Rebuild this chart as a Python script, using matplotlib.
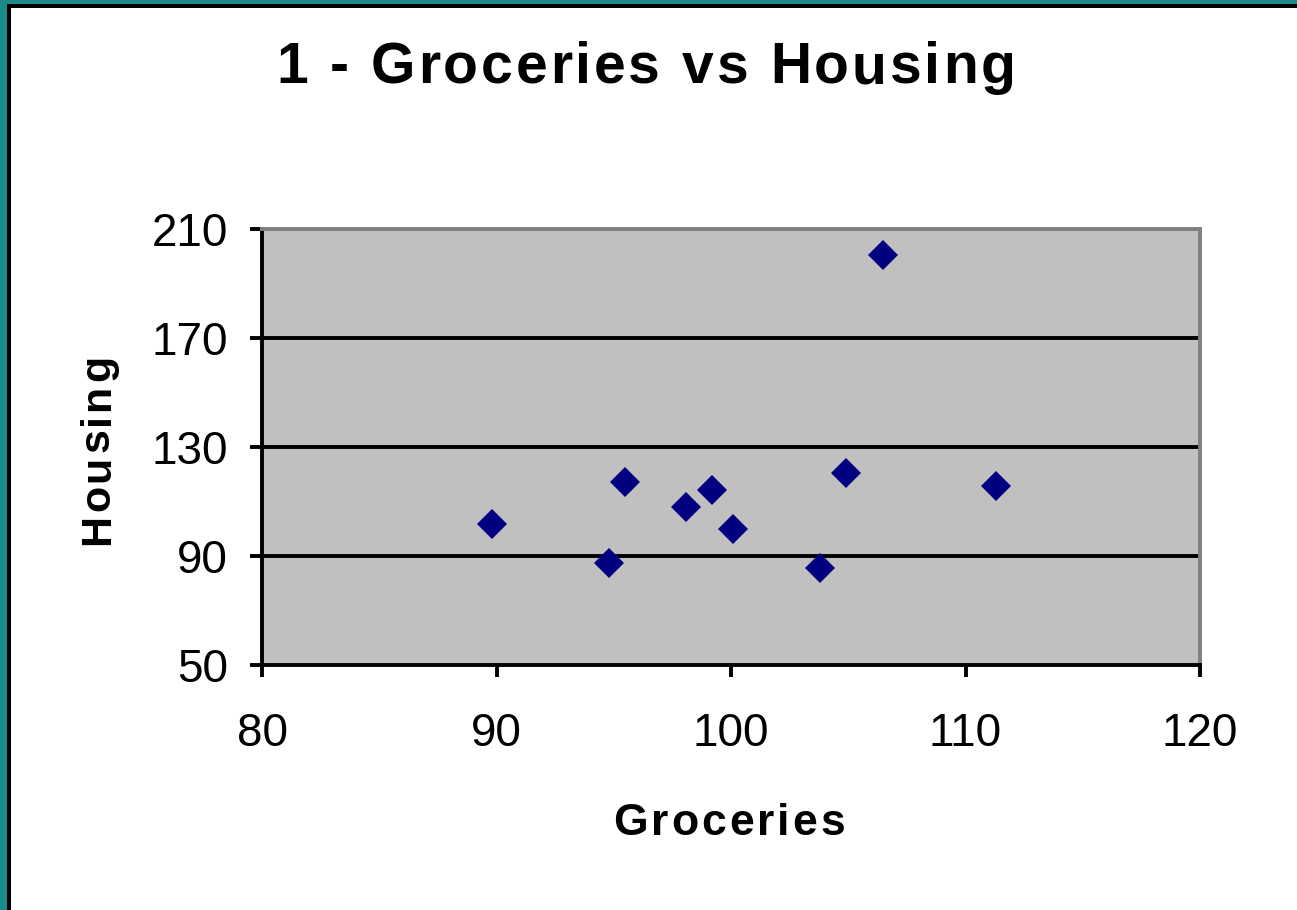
import matplotlib.pyplot as plt
from matplotlib.patches import Rectangle
from matplotlib.font_manager import FontProperties

# Grocery and housing cost indices for the sampled cities
groceries = [89.8, 94.8, 95.5, 98.1, 99.2, 100.1, 103.8, 104.9, 106.5, 111.3]
housing = [101.7, 87.4, 117.2, 108.0, 114.2, 99.9, 85.6, 120.5, 200.5, 115.7]

x_ticks = [80, 90, 100, 110, 120]
y_ticks = [50, 90, 130, 170, 210]

W, H = 1297, 910
FAMILY = ['Liberation Sans', 'DejaVu Sans']
plt.rcParams['font.family'] = FAMILY

fig = plt.figure(figsize=(W / 100, H / 100), dpi=100)
ax = fig.add_axes([262 / W, 1 - 665 / H, (1200 - 262) / W, (665 - 229) / H])


def spaced_text(s, cx, base, size, tracking, vertical=False):
    """Bold text with extra letter spacing, centred on cx (pixels from top-left)."""
    r = fig.canvas.get_renderer()
    prop = FontProperties(family=FAMILY, size=size, weight='bold')

    def width(t):
        return r.get_text_width_height_descent(t, prop, ismath=False)[0]

    bar = width('|')
    offs = [0.0] + [width(s[:i] + '|') - bar + i * tracking for i in range(1, len(s))]
    total = width(s) + tracking * (len(s) - 1)
    for ch, off in zip(s, offs):
        if vertical:
            # reads bottom to top, baseline on the right
            x, y = base, cx + total / 2 - off
        else:
            x, y = cx - total / 2 + off, base
        fig.text(x / W, 1 - y / H, ch, fontproperties=prop, ha='left', va='baseline',
                 rotation=90 if vertical else 0, rotation_mode='anchor')


# slide frame: teal strip with a black inner line on the top and left edges
teal = '#1b8a8a'
fig.patches.append(Rectangle((0, 1 - 4 / H), 1, 4 / H, transform=fig.transFigure,
                             facecolor=teal, edgecolor='none'))
fig.patches.append(Rectangle((0, 0), 7 / W, 1, transform=fig.transFigure,
                             facecolor=teal, edgecolor='none'))
fig.patches.append(Rectangle((7 / W, 1 - 8 / H), 1, 4 / H, transform=fig.transFigure,
                             facecolor='black', edgecolor='none'))
fig.patches.append(Rectangle((7 / W, 0), 4 / W, 1 - 4 / H, transform=fig.transFigure,
                             facecolor='black', edgecolor='none'))

ax.set_facecolor('#c0c0c0')
ax.plot(groceries, housing, linestyle='none', marker='D', markersize=15.6,
        color='#000080', markeredgewidth=0, zorder=3)

ax.set_xlim(80, 120)
ax.set_ylim(50, 210)
ax.set_xticks(x_ticks)
ax.set_yticks(y_ticks)
ax.tick_params(axis='both', direction='out', length=8.5, width=2.8, labelsize=33,
               color='black')
ax.tick_params(axis='y', pad=16)
ax.tick_params(axis='x', pad=25)

for y in y_ticks[1:-1]:
    ax.axhline(y, color='black', linewidth=2.8, zorder=1)

ax.spines['left'].set_color('black')
ax.spines['bottom'].set_color('black')
ax.spines['top'].set_color('#808080')
ax.spines['right'].set_color('#808080')
for s in ax.spines.values():
    s.set_linewidth(2.8)

spaced_text('1 - Groceries vs Housing', 646, 83, 41, 2.9)
spaced_text('Groceries', 729, 835, 32, 3.0)
spaced_text('Housing', 450, 109, 31, 3.0, vertical=True)

fig.savefig('out.png', dpi=100)
